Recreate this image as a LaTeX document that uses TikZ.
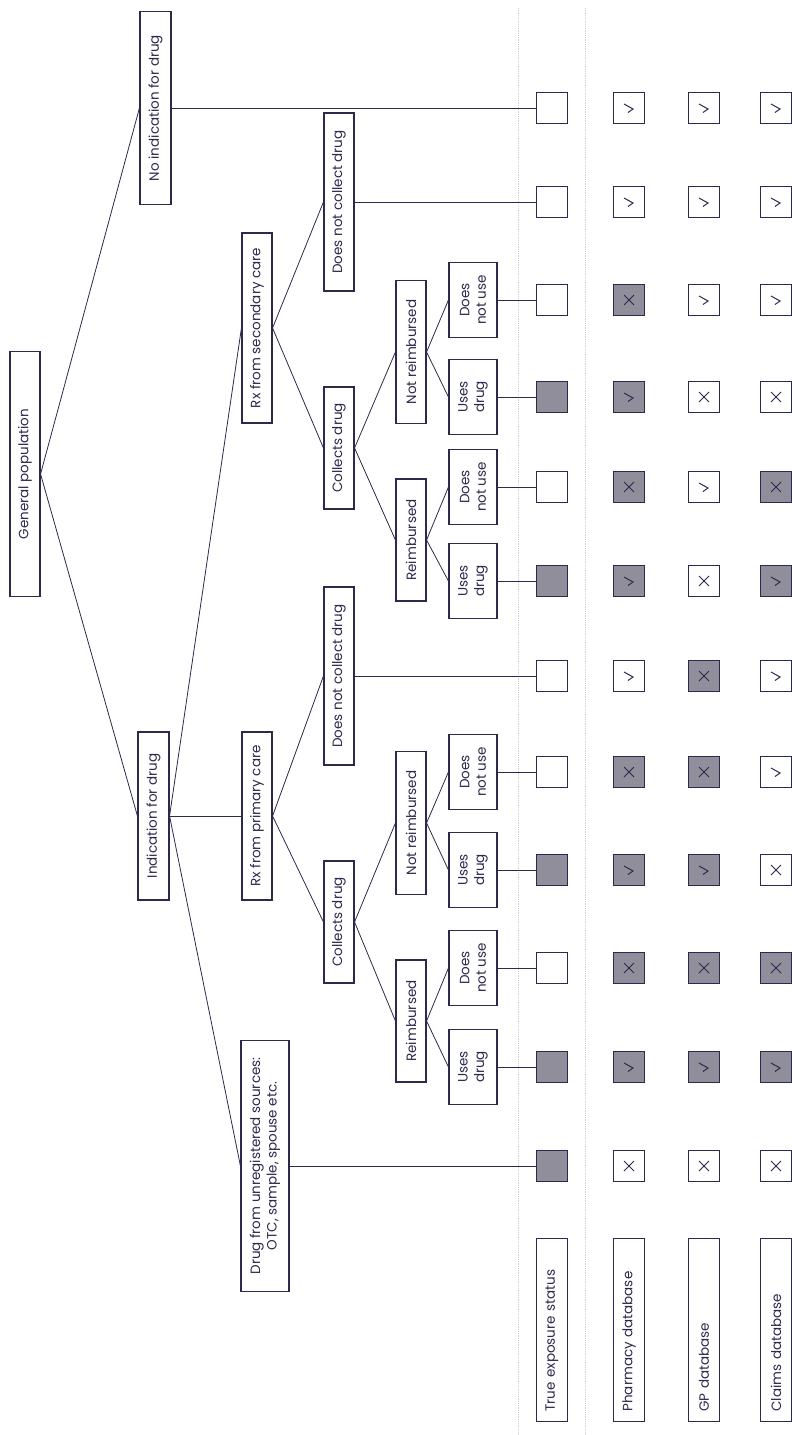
\documentclass[tikz,border=0pt]{standalone}
\usepackage{fontspec}
\setmainfont{Poppins}
\definecolor{ln}{HTML}{2B2A4C}
\definecolor{gf}{HTML}{918E9C}
\definecolor{dl}{HTML}{D2D2D8}
\tikzset{
  vb/.style={draw=ln, line width=1.1pt, rotate=90, fill=white, inner sep=0pt,
    font=\fontsize{13.5}{16.5}\selectfont, text=ln, align=center},
  lb/.style={vb, minimum width=183pt, minimum height=31pt, text width=163pt, align=left},
  sq/.style={draw=ln, line width=1.1pt, minimum size=31pt, inner sep=0pt, fill=white},
  sq-e/.style={sq}, sq-f/.style={sq, fill=gf},
  sq-ec/.style={sq}, sq-ex/.style={sq},
  sq-fc/.style={sq, fill=gf}, sq-fx/.style={sq, fill=gf},
  cn/.style={draw=ln, line width=0.8pt},
  mk/.style={draw=ln, line width=1pt},
  mk-ec/.pic={\draw[mk] (-5,-4) -- (4,1) -- (-1,4.5);},
  mk-fc/.pic={\draw[mk] (-5,-4) -- (4,1) -- (-1,4.5);},
  mk-ex/.pic={\draw[mk] (-5,-5) -- (5,5) (-5,5) -- (5,-5);},
  mk-fx/.pic={\draw[mk] (-5,-5) -- (5,5) (-5,5) -- (5,-5);},
  sep/.style={draw=dl, line width=0.8pt, densely dotted}
}
\begin{document}
\begin{tikzpicture}[x=1pt,y=-1pt]
\useasboundingbox (0,0) rectangle (792,1435);
% separators
\draw[sep] (518,8) -- (518,1435);
\draw[sep] (585,8) -- (585,1435);
% tree
\node[vb, minimum width=245pt, minimum height=30pt] (gp) at (25,474) {General population};
\node[vb, minimum width=193pt, minimum height=31pt] (noind) at (155.5,108) {No indication for drug};
\node[vb, minimum width=168pt, minimum height=31pt] (ind) at (153.5,816) {Indication for drug};
\node[vb, minimum width=251pt, minimum height=48pt] (unreg) at (265,1166) {Drug from unregistered sources:\\OTC, sample, spouse etc.};
\node[vb, minimum width=168pt, minimum height=30pt] (rxp) at (257,816) {Rx from primary care};
\node[vb, minimum width=190pt, minimum height=30pt] (rxs) at (257,328) {Rx from secondary care};
\node[vb, minimum width=122pt, minimum height=30pt] (colp) at (339,922) {Collects drug};
\node[vb, minimum width=178pt, minimum height=30pt] (dncp) at (339,676) {Does not collect drug};
\node[vb, minimum width=122pt, minimum height=30pt] (cols) at (339,448) {Collects drug};
\node[vb, minimum width=178pt, minimum height=30pt] (dncs) at (339,202) {Does not collect drug};
\node[vb, minimum width=122pt, minimum height=30pt] (reimp) at (411,1021) {Reimbursed};
\node[vb, minimum width=143pt, minimum height=30pt] (nrp) at (411,823) {Not reimbursed};
\node[vb, minimum width=122pt, minimum height=30pt] (reims) at (411,540) {Reimbursed};
\node[vb, minimum width=143pt, minimum height=30pt] (nrs) at (411,352) {Not reimbursed};
\foreach \r/\y/\t in {11/1067/{Uses\\drug}, 10/968/{Does\\not use}, 9/870/{Uses\\drug}, 8/772/{Does\\not use},
  6/581/{Uses\\drug}, 5/487/{Does\\not use}, 4/397/{Uses\\drug}, 3/300/{Does\\not use}}{
  \node[vb, minimum width=75pt, minimum height=48pt] (lf\r) at (473,\y) {\t};
}
% tree connectors
\draw[cn] (gp.south) -- (noind.north);
\draw[cn] (gp.south) -- (ind.north);
\draw[cn] (ind.south) -- (unreg.north);
\draw[cn] (ind.south) -- (rxp.north);
\draw[cn] (ind.south) -- (rxs.north);
\draw[cn] (rxp.south) -- (colp.north);
\draw[cn] (rxp.south) -- (dncp.north);
\draw[cn] (rxs.south) -- (cols.north);
\draw[cn] (rxs.south) -- (dncs.north);
\draw[cn] (colp.south) -- (reimp.north);
\draw[cn] (colp.south) -- (nrp.north);
\draw[cn] (cols.south) -- (reims.north);
\draw[cn] (cols.south) -- (nrs.north);
\draw[cn] (reimp.south) -- (lf11.north);
\draw[cn] (reimp.south) -- (lf10.north);
\draw[cn] (nrp.south) -- (lf9.north);
\draw[cn] (nrp.south) -- (lf8.north);
\draw[cn] (reims.south) -- (lf6.north);
\draw[cn] (reims.south) -- (lf5.north);
\draw[cn] (nrs.south) -- (lf4.north);
\draw[cn] (nrs.south) -- (lf3.north);
% matrix
\foreach \r/\y/\a/\b/\c/\d in {1/108/e/ec/ec/ec, 2/202/e/ec/ec/ec, 3/300/e/fx/ec/ec, 4/397/f/fc/ex/ex,
  5/487/e/fx/ec/fx, 6/581/f/fc/ex/fc, 7/676/e/ec/fx/ec, 8/772/e/fx/fx/ec, 9/870/f/fc/fc/ex,
  10/968/e/fx/fx/fx, 11/1067/f/fc/fc/fc, 12/1166/f/ex/ex/ex}{
  \node[sq-\a] (t\r) at (552,\y) {};
  \node[sq-\b] (p\r) at (629,\y) {};
  \node[sq-\c] (g\r) at (704,\y) {};
  \node[sq-\d] (c\r) at (776,\y) {};
  \pic at (p\r) {mk-\b};
  \pic at (g\r) {mk-\c};
  \pic at (c\r) {mk-\d};
}
% leaf connectors
\draw[cn] (noind.south) -- (t1.west);
\draw[cn] (dncs.south) -- (t2.west);
\draw[cn] (dncp.south) -- (t7.west);
\draw[cn] (unreg.south) -- (t12.west);
\foreach \r in {3,4,5,6,8,9,10,11}{\draw[cn] (lf\r.south) -- (t\r.west);}
% row labels
\node[lb] (lt) at (552,1330) {True exposure status};
\node[lb] (lp) at (629,1330) {Pharmacy database};
\node[lb] (lg) at (704,1330) {GP database};
\node[lb] (lc) at (776,1330) {Claims database};
\end{tikzpicture}
\end{document}
